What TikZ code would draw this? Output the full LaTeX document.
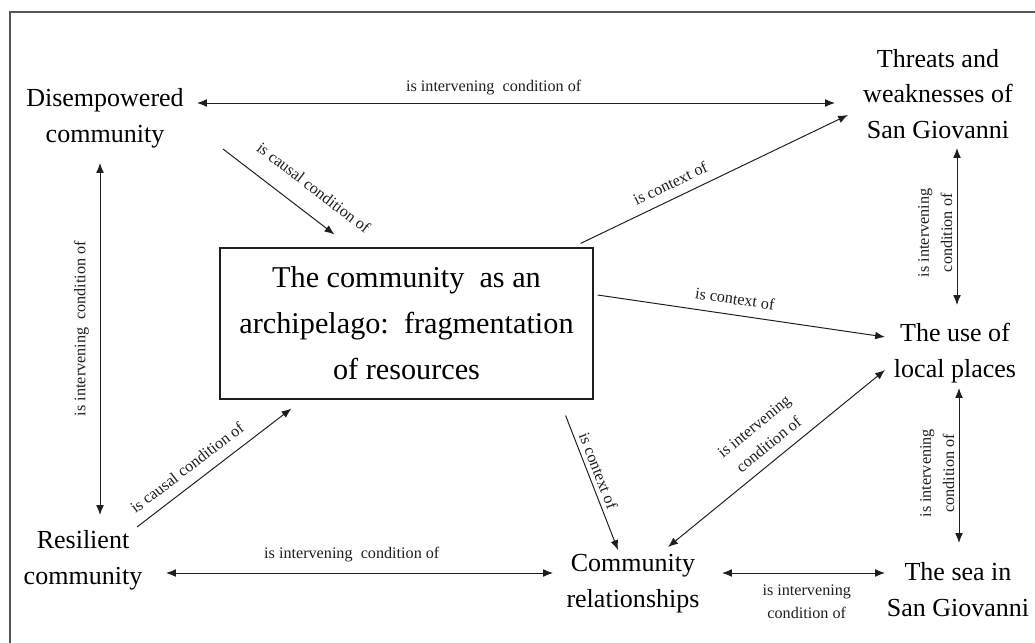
\documentclass[tikz,border=0pt]{standalone}
\usepackage{fontspec}
\setmainfont{Liberation Serif}
\usepackage{tikz}
\usetikzlibrary{arrows.meta}
\definecolor{inkK}{HTML}{1E1E1E}
\definecolor{frameG}{HTML}{555555}

\begin{document}
\begin{tikzpicture}[x=0.025cm, y=-0.025cm,
  concept/.style={align=center, inner sep=0pt, font=\fontsize{18.5}{25.5}\selectfont},
  core/.style={draw=inkK, line width=0.8pt, inner sep=0pt, align=center,
    minimum width=9.325cm, minimum height=3.775cm, font=\fontsize{21.5}{32.7}\selectfont},
  lab/.style={font=\fontsize{11.5}{16.5}\selectfont, inner sep=1pt, align=center},
  link/.style={inkK, line width=0.7pt, -{Latex[length=7pt,width=5.5pt]}},
  twoway/.style={link, {Latex[length=7pt,width=5.5pt]}-{Latex[length=7pt,width=5.5pt]}}]
  \useasboundingbox (0,0) rectangle (1035,643);
  % cropped frame
  \draw[frameG, line width=1.1pt] (1035,12) -- (10,12) -- (10,643);

  % concepts
  \node[concept] (dis) at (105,118) {Disempowered\\community};
  \node[concept] (thr) at (938,94) {Threats and\\weaknesses of\\San Giovanni};
  \node[concept] (use) at (955,353) {The use of\\local places};
  \node[concept] (res) at (83,560) {Resilient\\community};
  \node[concept] (rel) at (633,584) {Community\\relationships};
  \node[concept] (sea) at (958,590) {The sea in\\San Giovanni};
  \node[core] (arch) at (406.5,323.5)
    {The community\ \ as an\\archipelago:\ \ fragmentation\\of resources};

  % causal conditions
  \draw[link] ([shift={(118,31)}]dis.center) -- ([shift={(115,-13)}]arch.north west)
    node[lab, sloped, above=12pt, pos=0.68] {is causal condition of};
  \draw[link] ([shift={(54,-33)}]res.center) -- ([shift={(72,9)}]arch.south west)
    node[lab, sloped, above=6.5pt, pos=0.39] {is causal condition of};

  % context
  \draw[link] ([shift={(-13,-4)}]arch.north east) -- ([shift={(-90,21)}]thr.center)
    node[lab, sloped, above=5.5pt, pos=0.36] {is context of};
  \draw[link] ([shift={(4,-28.5)}]arch.east) -- ([shift={(-70,-16)}]use.center)
    node[lab, sloped, above=6pt, pos=0.47] {is context of};
  \draw[link] ([shift={(-28,16)}]arch.south east) -- ([shift={(-15,-34)}]rel.center)
    node[lab, sloped, above=2pt, pos=0.44] {is context of};

  % intervening conditions
  \draw[twoway] ([shift={(92,-15)}]dis.center) -- ([shift={(-103,9)}]thr.center)
    node[lab, above=4.5pt, pos=0.465] {is intervening\ \ condition of};
  \draw[twoway] ([shift={(17,-45)}]res.center) -- ([shift={(-5,45)}]dis.center)
    node[lab, sloped, above=6.5pt, pos=0.53] {is intervening\ \ condition of};
  \draw[twoway] ([shift={(83,13)}]res.center) -- ([shift={(-80,-11)}]rel.center)
    node[lab, above=6.5pt, pos=0.48] {is intervening\ \ condition of};
  \draw[twoway] ([shift={(35,-37)}]rel.center) -- ([shift={(-70,17)}]use.center)
    node[lab, sloped, above=6pt, pos=0.51] {is intervening\\condition of};
  \draw[twoway] ([shift={(2,-48)}]use.center) -- ([shift={(19,54)}]thr.center)
    node[lab, sloped, above=2pt, pos=0.46] {is intervening\\condition of};
  \draw[twoway] ([shift={(1,-47)}]sea.center) -- ([shift={(4,35)}]use.center)
    node[lab, sloped, above=2pt, pos=0.45] {is intervening\\condition of};
  \draw[twoway] ([shift={(89,-11)}]rel.center) -- ([shift={(-73,-17)}]sea.center)
    node[lab, below=7pt, pos=0.52] {is intervening\\condition of};
\end{tikzpicture}
\end{document}
